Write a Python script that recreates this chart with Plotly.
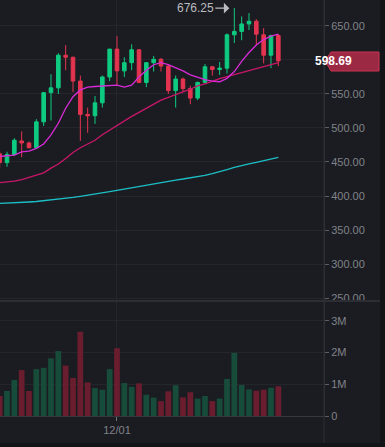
import plotly.graph_objects as go
import pandas as pd

dates = ["2020-11-15", "2020-11-16", "2020-11-17", "2020-11-18", "2020-11-19", "2020-11-20",
         "2020-11-21", "2020-11-22", "2020-11-23", "2020-11-24", "2020-11-25", "2020-11-26",
         "2020-11-27", "2020-11-28", "2020-11-29", "2020-11-30", "2020-12-01", "2020-12-02",
         "2020-12-03", "2020-12-04", "2020-12-05", "2020-12-06", "2020-12-07", "2020-12-08",
         "2020-12-09", "2020-12-10", "2020-12-11", "2020-12-12", "2020-12-13", "2020-12-14",
         "2020-12-15", "2020-12-16", "2020-12-17", "2020-12-18", "2020-12-19", "2020-12-20",
         "2020-12-21", "2020-12-22", "2020-12-23"]

opens = [462, 449, 461, 481, 478, 471, 509, 552, 559, 607, 604, 569, 520, 518, 537, 575, 616, 584,
         596, 615, 567, 596, 601, 591, 555, 572, 558, 544, 567, 590, 586, 588, 637, 642, 653, 657,
         637, 607, 636]
highs = [465, 465, 485, 495, 480, 513, 553, 579, 610, 622, 605, 577, 530, 547, 577, 616, 635, 604,
         623, 616, 597, 606, 603, 594, 577, 574, 562, 568, 594, 591, 597, 639, 676.25, 664, 669, 660,
         647, 637, 638]
lows = [441, 443, 459, 457, 470, 470, 503, 511, 550, 585, 553, 481, 493, 506, 530, 569, 563, 575,
        585, 566, 560, 583, 583, 550, 530, 553, 535, 541, 566, 577, 578, 580, 625, 629, 644, 622,
        595, 588, 591]
closes = [449, 461, 482, 478, 471, 509, 552, 559, 607, 604, 569, 520, 518, 537, 575, 616, 584, 596,
          615, 567, 596, 601, 591, 555, 572, 558, 544, 567, 590, 586, 588, 637, 642, 653, 657, 638,
          607, 636, 598.69]
volumes = [0.63, 0.79, 1.14, 1.45, 0.79, 1.48, 1.52, 1.82, 2.05, 1.59, 1.20, 2.66, 1.06, 0.88, 0.83,
           1.48, 2.14, 1.04, 0.92, 1.03, 0.67, 0.58, 0.47, 0.78, 0.97, 0.59, 0.75, 0.55, 0.63, 0.47,
           0.55, 1.17, 1.99, 0.98, 0.84, 0.80, 0.83, 0.89, 0.94]  # millions
ma7 = [458, 459, 460, 465, 466, 470, 476.5, 490, 507, 529, 546, 556, 560, 561, 562, 562, 563, 560,
       563, 575, 585, 593, 596, 593, 589, 584, 578, 574, 571, 569, 568, 573, 583, 598, 611, 622,
       630, 635, 638]
ma25 = [419.6, 420.6, 422, 424, 427, 430, 434, 441, 447, 455, 464, 471, 476.5, 482, 490, 497, 504,
        511, 517, 523, 529, 535, 541, 545, 548.5, 553, 557, 562, 565, 569, 572.5, 575.5, 578.5, 582,
        584, 587, 590, 593, 596]
ma99 = [389.2, 389.5, 390.0, 390.4, 391.2, 391.9, 392.9, 394.1, 395.3, 396.6, 398.0, 399.5, 401.5,
        402.9, 404.4, 406.4, 408.3, 410.3, 412.2, 414.2, 416.4, 418.6, 420.6, 422.1, 423.5, 425.0,
        426.5, 428.2, 430.4, 432.8, 435.5, 438.7, 442.2, 445.1, 447.1, 449.3, 451.7, 454.4, 456.9]

price_ticks = [250, 300, 350, 400, 450, 500, 550, 600, 650]
price_tick_text = ["250.00", "300.00", "350.00", "400.00", "450.00", "500.00", "550.00", "", "650.00"]
vol_ticks = [0, 1e6, 2e6, 3e6]
vol_tick_text = ["0", "1M", "2M", "3M"]
date_tick = ["2020-12-01"]
date_tick_text = ["12/01"]
high_label = "676.25"
last_label = "598.69"

UP = "#0ecb81"
DOWN = "#e33450"
VOL_UP = "#174c3a"
VOL_DOWN = "#6a1d2e"
BG = "#1b1c21"
OUTER = "#131418"
GRID = "#24262c"
AXIS = "#2c2e34"
TXT = "#80838a"
FONT = "Arial, Liberation Sans, sans-serif"

fig = go.Figure()

fig.add_trace(go.Scatter(x=dates, y=ma99, mode="lines", line=dict(color="#1cbfc6", width=1.3),
                         xaxis="x", yaxis="y", hoverinfo="skip"))
fig.add_trace(go.Scatter(x=dates, y=ma25, mode="lines", line=dict(color="#c8176a", width=1.3),
                         xaxis="x", yaxis="y", hoverinfo="skip"))
fig.add_trace(go.Scatter(x=dates, y=ma7, mode="lines", line=dict(color="#d92ad9", width=1.3),
                         xaxis="x", yaxis="y", hoverinfo="skip"))
fig.add_trace(go.Candlestick(
    x=dates, open=opens, high=highs, low=lows, close=closes,
    increasing=dict(line=dict(color=UP, width=1), fillcolor=UP),
    decreasing=dict(line=dict(color=DOWN, width=1), fillcolor=DOWN),
    whiskerwidth=0, xaxis="x", yaxis="y"))

vol_colors = [VOL_UP if c >= o else VOL_DOWN for o, c in zip(opens, closes)]
fig.add_trace(go.Bar(x=dates, y=[v * 1e6 for v in volumes], marker=dict(color=vol_colors, line=dict(width=0)),
                     width=0.78 * 86400000, xaxis="x2", yaxis="y2"))

d0 = pd.Timestamp(dates[1])
xr = [d0 + pd.Timedelta(days=-0.955), d0 + pd.Timedelta(days=43.23)]

split = (416 - 301) / 416.0

fig.update_layout(
    width=385, height=447,
    margin=dict(l=0, r=61, t=0, b=31),
    paper_bgcolor=OUTER, plot_bgcolor=BG,
    showlegend=False,
    font=dict(family=FONT, size=11, color=TXT),
    xaxis=dict(domain=[0, 1], anchor="y", range=xr, type="date", rangeslider=dict(visible=False),
               tickvals=date_tick, showticklabels=False, showgrid=True, gridcolor=GRID, gridwidth=1,
               zeroline=False, showline=False, ticks=""),
    xaxis2=dict(domain=[0, 1], anchor="y2", range=xr, type="date", tickvals=date_tick,
                ticktext=date_tick_text, showgrid=True, gridcolor=GRID, gridwidth=1, zeroline=False,
                showline=True, linecolor="#36383e", linewidth=1, ticks="outside", ticklen=4,
                tickcolor="#70737a", tickfont=dict(size=11, color=TXT)),
    yaxis=dict(domain=[split, 1], anchor="x", side="right", range=[245.6, 688.2],
               tickvals=price_ticks, ticktext=price_tick_text, showgrid=True, gridcolor=GRID,
               zeroline=False, showline=True, linecolor=AXIS, ticks="outside", ticklen=4,
               tickcolor="#5a5d64", tickfont=dict(size=11, color=TXT)),
    yaxis2=dict(domain=[0, split], anchor="x2", side="right", range=[0, 3.63e6],
                tickvals=vol_ticks, ticktext=vol_tick_text, showgrid=True, gridcolor=GRID,
                zeroline=False, showline=True, linecolor=AXIS, ticks="outside", ticklen=4,
                tickcolor="#5a5d64", tickfont=dict(size=11, color=TXT)),
)

# lighter chart panel, axis separators
fig.add_shape(type="rect", xref="paper", yref="paper", x0=0, x1=380 / 324, y0=-27 / 416, y1=1,
              fillcolor=BG, line=dict(width=0), layer="below")
fig.add_shape(type="line", xref="paper", yref="paper", x0=0, x1=380 / 324, y0=split, y1=split,
              line=dict(color="#2c2e34", width=2))
fig.add_shape(type="line", xref="paper", yref="paper", x0=1, x1=1, y0=-27 / 416, y1=1,
              line=dict(color=AXIS, width=1))

# last price tag (pixel-placed in paper space)
def pyp(ypx):
    return (416 - ypx) / 416.0

def pxp(xpx):
    return xpx / 324.0

tag_y = 26 + (650 - closes[-1]) * 0.68
fig.add_shape(type="path", xref="paper", yref="paper",
              path=f"M {pxp(325)} {pyp(tag_y)} L {pxp(331)} {pyp(52)} L {pxp(379)} {pyp(52)} "
                   f"L {pxp(379)} {pyp(71)} L {pxp(331)} {pyp(71)} Z",
              fillcolor="#9c2944", line=dict(color="#c93451", width=1), layer="above")
fig.add_annotation(xref="paper", yref="y", x=pxp(354), y=closes[-1], text=f"<b>{last_label}</b>",
                   showarrow=False, font=dict(color="#ffffff", size=12, family=FONT))

# high marker
fig.add_annotation(xref="x", yref="y", x=dates[32], y=highs[32], text=high_label, showarrow=True,
                   ax=-39, ay=0, standoff=5, arrowhead=1, arrowsize=1.3, arrowwidth=1.4,
                   arrowcolor="#b9bbbf", font=dict(color="#b9bbbf", size=12, family=FONT))

fig.write_html("out.html", config={"displayModeBar": False},
               post_script="document.body.style.margin='0';document.body.style.background='#131418';")
